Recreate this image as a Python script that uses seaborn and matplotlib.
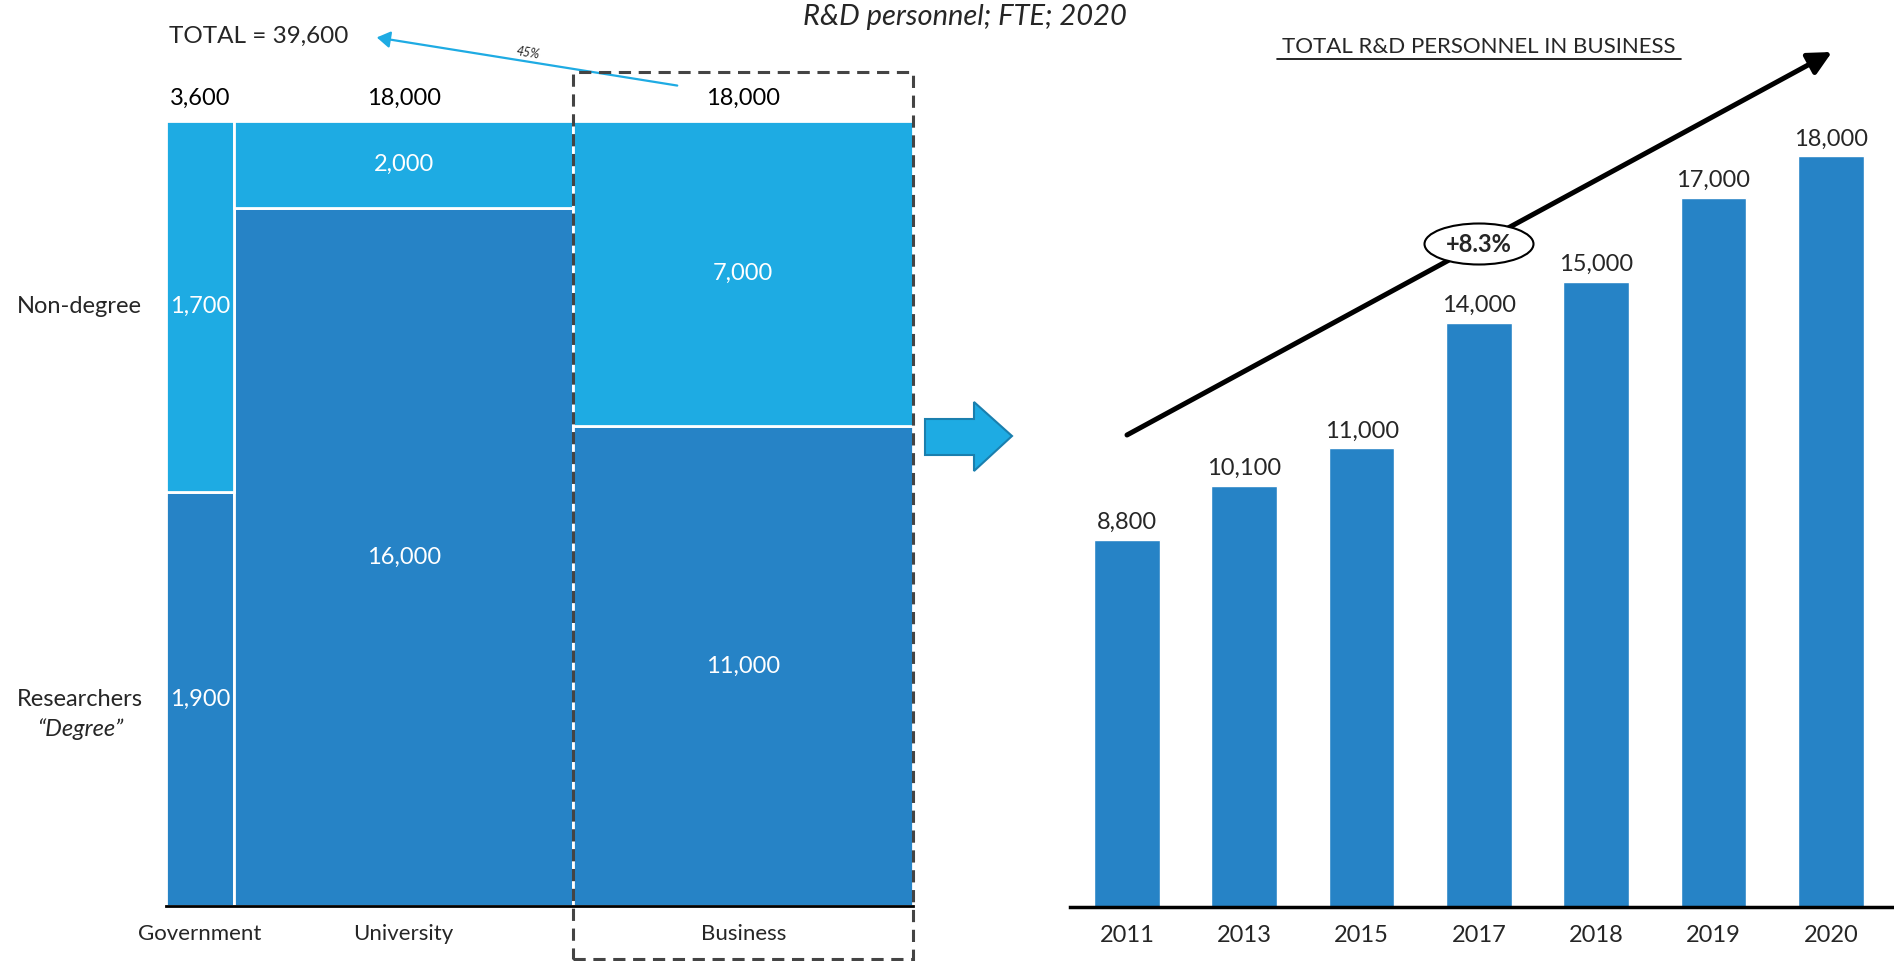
import matplotlib
matplotlib.use("Agg")
import matplotlib.pyplot as plt
from matplotlib.patches import Rectangle, Ellipse, Polygon
from matplotlib.lines import Line2D
import seaborn as sns
import numpy as np
import pandas as pd

# ---------------- data ----------------
sectors = ["Government", "University", "Business"]
sector_totals = [3600, 18000, 18000]
degree_vals = [1900, 16000, 11000]
nondegree_vals = [1700, 2000, 7000]
grand_total_label = "TOTAL = 39,600"
share_label = "45%"
row_labels = ["Non-degree", "Researchers"]

years = ["2011", "2013", "2015", "2017", "2018", "2019", "2020"]
business_personnel = [8800, 10100, 11000, 14000, 15000, 17000, 18000]
cagr_label = "+8.3%"

LIGHT = "#1EABE3"
DARK = "#2683C6"

sns.set_theme(style="white")
plt.rcParams["font.family"] = ["Lato", "DejaVu Sans"]

W, H = 1894, 961
fig = plt.figure(figsize=(W / 100, H / 100), dpi=100)


def fx(x):
    return x / W


def fy(y):
    return 1 - y / H


# ---------------- left marimekko ----------------
axL = fig.add_axes([fx(166), fy(906), fx(913) - fx(166), fy(121) - fy(906)])
tot = float(sum(sector_totals))
lefts = np.concatenate([[0], np.cumsum(sector_totals)[:-1]])
deg_frac = [d / t for d, t in zip(degree_vals, sector_totals)]
non_frac = [n / t for n, t in zip(nondegree_vals, sector_totals)]
axL.bar(lefts, deg_frac, width=sector_totals, align="edge", color=DARK,
        edgecolor="white", linewidth=2)
axL.bar(lefts, non_frac, width=sector_totals, bottom=deg_frac, align="edge",
        color=LIGHT, edgecolor="white", linewidth=2)
axL.set_xlim(0, tot)
axL.set_ylim(0, 1)
centers = lefts + np.array(sector_totals) / 2
for c, d, n, t in zip(centers, degree_vals, nondegree_vals, sector_totals):
    axL.text(c, d / t / 2, f"{d:,}", color="white", ha="center", va="center", fontsize=17)
    axL.text(c, d / t + n / t / 2, f"{n:,}", color="white", ha="center", va="center", fontsize=17)
    axL.text(c, 1.029, f"{t:,}", color="black", ha="center", va="center", fontsize=17)
axL.set_xticks(centers)
axL.set_xticklabels(sectors, fontsize=16)
axL.set_yticks([])
axL.tick_params(axis="x", length=0, pad=13)
for s in ["top", "right", "left"]:
    axL.spines[s].set_visible(False)
axL.spines["bottom"].set_color("black")
axL.spines["bottom"].set_linewidth(2)

# row labels
g_deg = deg_frac[0]
axL.text(-0.116, g_deg + non_frac[0] / 2, row_labels[0], transform=axL.transAxes,
         ha="center", va="center", fontsize=17)
fig.text(fx(80), fy(699), row_labels[1], ha="center", va="center", fontsize=17)
fig.text(fx(80), fy(729), "\u201cDegree\u201d", ha="center", va="center", fontsize=17, style="italic")

# dashed box around Business
fig.patches.append(Rectangle((fx(573), fy(959)), fx(913) - fx(573), fy(72) - fy(959),
                             transform=fig.transFigure, fill=False, edgecolor="#444444",
                             linewidth=2.2, linestyle=(0, (4, 2.5)), zorder=10))

# total & share arrow
fig.text(fx(169), fy(36), grand_total_label, ha="left", va="center", fontsize=17.5)
fig.add_artist(matplotlib.patches.FancyArrowPatch(
    (fx(680), fy(86)), (fx(374), fy(37)), transform=fig.transFigure,
    arrowstyle="-|>,head_length=8,head_width=5", color=LIGHT, linewidth=1.6))
fig.text(fx(528), fy(53), share_label, ha="center", va="center", fontsize=9,
         style="italic", rotation=-9)

# title
fig.text(fx(965), fy(17), "R&D personnel; FTE; 2020", ha="center", va="center",
         fontsize=21, style="italic")

# block arrow
pts = [(925, 419), (974, 419), (974, 402), (1012, 436), (974, 471), (974, 455), (925, 455)]
fig.patches.append(Polygon([(fx(x), fy(y)) for x, y in pts], closed=True,
                           transform=fig.transFigure, facecolor=LIGHT,
                           edgecolor="#1A7FAE", linewidth=1.5))

# ---------------- right bar chart ----------------
ax_top_px = 40
base_px = 907
axR = fig.add_axes([fx(1070), fy(base_px), 1 - fx(1070), fy(ax_top_px) - fy(base_px)])
df = pd.DataFrame({"year": years, "value": business_personnel})
sns.barplot(data=df, x="year", y="value", color=DARK, saturation=1, width=0.56, ax=axR)
px_per_unit = 0.0417
axR.set_ylim(0, (base_px - ax_top_px) / px_per_unit)
step = 117.3
axR.set_xlim((1070 - 1127) / step, (1894 - 1127) / step)
for i, v in enumerate(business_personnel):
    axR.annotate(f"{v:,}", (i, v), xytext=(0, 5), textcoords="offset points",
                 ha="center", va="bottom", fontsize=17)
axR.set_xlabel("")
axR.set_ylabel("")
axR.set_yticks([])
axR.tick_params(axis="x", length=0, pad=13, labelsize=17)
for s in ["top", "right", "left"]:
    axR.spines[s].set_visible(False)
axR.spines["bottom"].set_color("black")
axR.spines["bottom"].set_linewidth(2.5)

# trend arrow
fig.add_artist(matplotlib.patches.FancyArrowPatch(
    (fx(1127), fy(435)), (fx(1832), fy(52)), transform=fig.transFigure,
    arrowstyle="-|>,head_length=14,head_width=7", color="black", linewidth=3.6,
    shrinkA=0, shrinkB=0))
fig.patches.append(Ellipse((fx(1479), fy(244)), fx(109), 41 / H, transform=fig.transFigure,
                           facecolor="white", edgecolor="black", linewidth=1.5, zorder=5))
fig.text(fx(1479), fy(244), cagr_label, ha="center", va="center", fontsize=17,
         fontweight="bold", zorder=6)

# right title with underline
fig.text(fx(1479), fy(47), "TOTAL R&D PERSONNEL IN BUSINESS", ha="center", va="center",
         fontsize=16)
fig.add_artist(Line2D([fx(1277), fx(1681)], [fy(59), fy(59)], transform=fig.transFigure,
                      color="black", linewidth=1.2))

fig.savefig("out.png", dpi=100)
